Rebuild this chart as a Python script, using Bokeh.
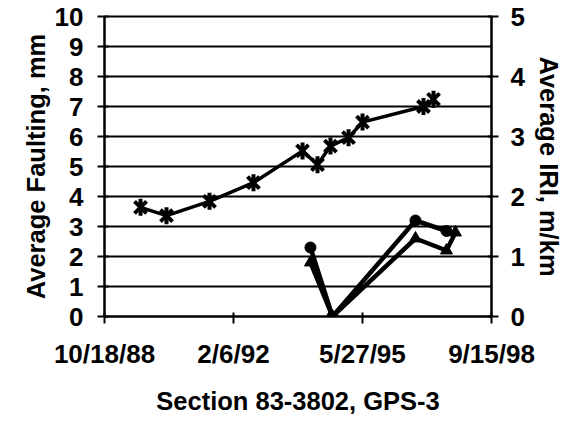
import math
import pandas as pd
from bokeh.plotting import figure
from bokeh.models import (Range1d, LinearAxis, FixedTicker, CustomJSTickFormatter,
                          ColumnDataSource)
from bokeh.embed import file_html
from bokeh.resources import INLINE

# ---- data ----
iri_dates = ["1989-09-20", "1990-05-21", "1991-06-27", "1992-08-11", "1993-11-13",
             "1994-04-02", "1994-08-01", "1995-01-17", "1995-05-28", "1996-12-18",
             "1997-03-22"]
iri_values = [1.82, 1.68, 1.92, 2.23, 2.76, 2.53, 2.84, 2.98, 3.24, 3.50, 3.62]

fault_a_dates = ["1994-01-26", "1994-08-20", "1996-10-04", "1997-07-21"]
fault_a_values = [2.3, 0.0, 3.2, 2.85]

fault_b_dates = ["1994-01-26", "1994-08-20", "1996-10-04", "1997-07-21", "1997-10-13"]
fault_b_values = [1.8, 0.0, 2.6, 2.2, 2.8]

x_tick_dates = ["1988-10-18", "1992-02-06", "1995-05-27", "1998-09-15"]
left_ticks = list(range(0, 11))
right_ticks = list(range(0, 6))

FONT = "Liberation Sans"


def ms(d):
    return pd.Timestamp(d).value / 1e6


p = figure(width=569, height=422, output_backend="svg", toolbar_location=None,
           x_axis_type="datetime",
           x_range=Range1d(ms(x_tick_dates[0]), ms(x_tick_dates[-1])),
           y_range=Range1d(0, 10),
           min_border_left=104, min_border_right=78, min_border_top=16,
           min_border_bottom=106)
p.extra_y_ranges = {"iri": Range1d(0, 5)}

p.background_fill_color = "white"
p.border_fill_color = "white"
p.outline_line_color = "black"
p.outline_line_width = 2

# grid
p.xgrid.visible = False
p.ygrid.ticker = FixedTicker(ticks=left_ticks)
p.ygrid.grid_line_color = "black"
p.ygrid.grid_line_width = 2

# x axis
xa = p.xaxis[0]
xa.ticker = FixedTicker(ticks=[ms(d) for d in x_tick_dates])
xa.formatter = CustomJSTickFormatter(code="""
const d = new Date(tick);
return (d.getUTCMonth()+1) + "/" + d.getUTCDate() + "/" + String(d.getUTCFullYear()).slice(2);
""")
xa.axis_label = "Section 83-3802, GPS-3"

# left axis
ya = p.yaxis[0]
ya.ticker = FixedTicker(ticks=left_ticks)
ya.axis_label = "Average Faulting, mm"

# right axis
ra = LinearAxis(y_range_name="iri", ticker=FixedTicker(ticks=right_ticks),
                axis_label="Average IRI, m/km")
p.add_layout(ra, "right")

for ax in [xa, ya, ra]:
    ax.axis_line_color = "black"
    ax.axis_line_width = 2
    ax.major_tick_line_color = "black"
    ax.major_tick_line_width = 2
    ax.major_tick_in = 4
    ax.major_tick_out = 7
    ax.minor_tick_line_color = None
    ax.major_label_text_font = FONT
    ax.major_label_text_font_style = "bold"
    ax.major_label_text_font_size = "26px"
    ax.major_label_text_color = "black"
    ax.axis_label_text_font = FONT
    ax.axis_label_text_font_style = "bold"
    ax.axis_label_text_font_size = "25.5px"
    ax.axis_label_text_color = "black"

xa.major_label_standoff = 15
xa.axis_label_standoff = 15
ya.major_label_standoff = 14
ya.axis_label_standoff = 2
ra.major_label_standoff = 12
ra.axis_label_standoff = 7

# IRI series (right axis), star markers
src_iri = ColumnDataSource(dict(x=[ms(d) for d in iri_dates], y=iri_values))
p.line("x", "y", source=src_iri, y_range_name="iri", line_color="black", line_width=3.5)
p.scatter("x", "y", source=src_iri, y_range_name="iri", marker="x", size=17,
          line_color="black", line_width=4)
p.scatter("x", "y", source=src_iri, y_range_name="iri", marker="dash", angle=math.pi / 2,
          size=17, line_color="black", line_width=4)

# Faulting series (left axis)
src_a = ColumnDataSource(dict(x=[ms(d) for d in fault_a_dates], y=fault_a_values))
src_b = ColumnDataSource(dict(x=[ms(d) for d in fault_b_dates], y=fault_b_values))
p.line("x", "y", source=src_a, line_color="black", line_width=4.5)
p.line("x", "y", source=src_b, line_color="black", line_width=4.5)
p.scatter("x", "y", source=src_a, marker="circle", size=11, fill_color="black",
          line_color="black")
p.scatter("x", "y", source=src_b, marker="triangle", size=12, fill_color="black",
          line_color="black")

open("out.html", "w").write(file_html(p, INLINE))
